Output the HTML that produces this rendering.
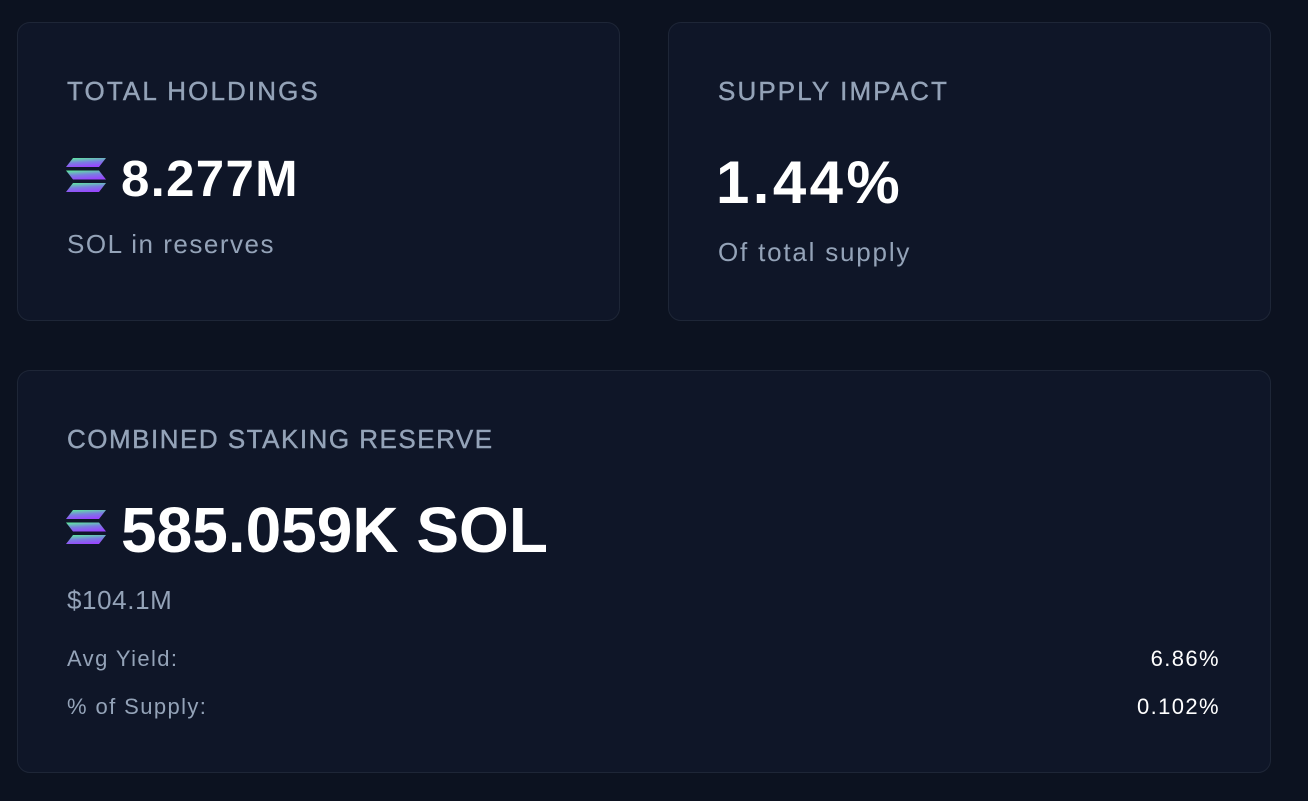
<!DOCTYPE html>
<html><head><style>
body{margin:0;width:1308px;height:801px;background:#0c1220;font-family:"Liberation Sans",sans-serif;position:relative;overflow:hidden}
.card{position:absolute;background:#0f1628;border:1.5px solid #1e2637;border-radius:13px;box-sizing:border-box}
.t{position:absolute;white-space:nowrap;line-height:1}
.lab{color:#94a3b8;font-size:26px;letter-spacing:2.1px;-webkit-text-stroke:0.4px #94a3b8}
.big{color:#fff;font-weight:bold}
.sub{color:#94a3b8;font-size:26px;letter-spacing:1.5px}
.sm{font-size:22px;letter-spacing:1.4px}
</style></head><body>
<svg width="0" height="0" style="position:absolute"><defs><linearGradient id="g" x1="0.2" y1="0" x2="0.5" y2="1"><stop offset="0" stop-color="#5ee6a0"/><stop offset="0.5" stop-color="#7a7ee0"/><stop offset="1" stop-color="#9945ff"/></linearGradient></defs></svg>
<div class="card" style="left:17px;top:22px;width:603px;height:299px"></div>
<div class="card" style="left:668px;top:22px;width:603px;height:299px"></div>
<div class="card" style="left:17px;top:370px;width:1254px;height:403px"></div>

<div class="t lab" style="left:67px;top:78px">TOTAL HOLDINGS</div>
<svg style="position:absolute;left:66px;top:158px" width="40" height="34" viewBox="0 0 40 34"><g fill="url(#g)"><polygon points="7,0 40,0 33,9 0,9"/><polygon points="0,12.5 33,12.5 40,21.5 7,21.5"/><polygon points="7,25 40,25 33,34 0,34"/></g></svg>
<div class="t big" style="left:121px;top:153px;font-size:51px;letter-spacing:1.3px">8.277M</div>
<div class="t sub" style="left:67px;top:231px">SOL in reserves</div>

<div class="t lab" style="left:718px;top:78px">SUPPLY IMPACT</div>
<div class="t big" style="left:716px;top:153px;font-size:60px;letter-spacing:3.4px">1.44%</div>
<div class="t sub" style="left:718px;top:239px;letter-spacing:1.8px">Of total supply</div>

<div class="t lab" style="left:67px;top:426px;letter-spacing:1.5px">COMBINED STAKING RESERVE</div>
<svg style="position:absolute;left:66px;top:510px" width="40" height="34" viewBox="0 0 40 34"><g fill="url(#g)"><polygon points="7,0 40,0 33,9 0,9"/><polygon points="0,12.5 33,12.5 40,21.5 7,21.5"/><polygon points="7,25 40,25 33,34 0,34"/></g></svg>
<div class="t big" style="left:121px;top:498px;font-size:64px">585.059K SOL</div>
<div class="t sub" style="left:67px;top:587px;letter-spacing:0.6px">$104.1M</div>
<div class="t sub sm" style="left:67px;top:648px">Avg Yield:</div>
<div class="t sm" style="right:88px;top:648px;color:#fff">6.86%</div>
<div class="t sub sm" style="left:67px;top:696px">% of Supply:</div>
<div class="t sm" style="right:88px;top:696px;color:#fff">0.102%</div>
</body></html>
